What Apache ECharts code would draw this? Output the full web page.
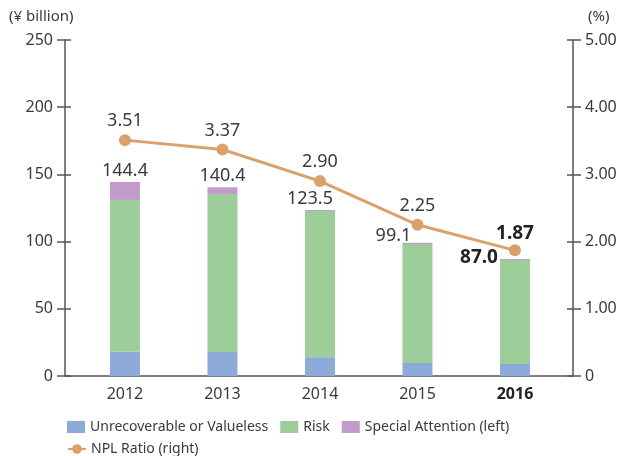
<!DOCTYPE html>
<html>
<head>
<meta charset="utf-8">
<script src="https://cdn.jsdelivr.net/npm/echarts@6/dist/echarts.min.js"></script>
<style>
  html, body { margin: 0; padding: 0; background: #fff; }
  #main { width: 622px; height: 456px; }
</style>
</head>
<body>
<div id="main"></div>
<script>
// 数据
var years = [2012, 2013, 2014, 2015, 2016];
var unrecoverable = [18.0, 17.9, 14.0, 9.7, 9.0];
var risk = [113.0, 117.5, 108.8, 88.5, 77.3];
var special = [13.4, 5.0, 0.7, 0.9, 0.7];
var totals = [144.4, 140.4, 123.5, 99.1, 87.0];
var nplRatio = [3.51, 3.37, 2.90, 2.25, 1.87];

var font = 'Noto Sans';
var textColor = '#3a3a3a';
var axisColor = '#555';

// 合计标签位置微调
var totalLabelTweak = [
  { position: 'top', distance: 2, offset: [0, 0] },
  { position: 'top', distance: 2, offset: [0, 0] },
  { position: 'top', distance: 2, offset: [-10, 0] },
  { position: 'top', distance: 0, offset: [-24, 2] },
  { position: 'left', distance: 2, offset: [0, -2], fontWeight: 'bold', fontSize: 19, color: '#222' }
];

// [数值, 年份]，数值放第一维以便堆叠
function pairs(arr) {
  return years.map(function (y, i) { return [arr[i], y]; });
}

var chart = echarts.init(document.getElementById('main'), null, { renderer: 'canvas' });

var option = {
  animation: false,
  textStyle: { fontFamily: font },
  grid: { left: 65, right: 49, top: 40, bottom: 80, containLabel: false },
  graphic: [
    { type: 'text', left: 9, top: 9, style: { text: '(¥ billion)', font: '15px "Noto Sans"', fill: textColor } },
    { type: 'text', left: 588, top: 9, style: { text: '(%)', font: '15px "Noto Sans"', fill: textColor } }
  ],
  legend: [
    {
      left: 62, top: 415, itemWidth: 18, itemHeight: 12, itemGap: 12,
      textStyle: { fontSize: 14, color: textColor, fontFamily: font },
      data: [
        { name: 'Unrecoverable or Valueless', icon: 'rect' },
        { name: 'Risk', icon: 'rect' },
        { name: 'Special Attention (left)', icon: 'rect' }
      ]
    },
    {
      left: 62, top: 437, itemWidth: 18, itemHeight: 12,
      textStyle: { fontSize: 14, color: textColor, fontFamily: font },
      data: ['NPL Ratio (right)']
    }
  ],
  xAxis: {
    type: 'value',
    min: 2011.385,
    max: 2016.595,
    splitLine: { show: false },
    axisLine: { show: true, lineStyle: { color: axisColor, width: 1.5 } },
    axisTick: { show: false },
    axisLabel: {
      customValues: years,
      margin: 10,
      fontSize: 16,
      color: textColor,
      formatter: function (v) {
        return v === 2016 ? '{b|' + v + '}' : String(v);
      },
      rich: { b: { fontWeight: 'bold', fontSize: 16, color: '#222' } }
    }
  },
  yAxis: [
    {
      type: 'value', min: 0, max: 250, interval: 50, position: 'left',
      splitLine: { show: false },
      axisLine: { show: true, lineStyle: { color: axisColor, width: 1.5 } },
      axisTick: { show: true, length: 8, lineStyle: { color: axisColor, width: 1.5 } },
      axisLabel: { margin: 12, fontSize: 16, color: textColor }
    },
    {
      type: 'value', min: 0, max: 5, interval: 1, position: 'right',
      splitLine: { show: false },
      axisLine: { show: true, lineStyle: { color: axisColor, width: 1.5 } },
      axisTick: { show: true, length: 8, lineStyle: { color: axisColor, width: 1.5 } },
      axisLabel: {
        margin: 12, fontSize: 16, color: textColor,
        formatter: function (v) { return v === 0 ? '0' : v.toFixed(2); }
      }
    },
    {
      type: 'value', min: 0, max: 250, interval: 50, position: 'left',
      splitLine: { show: false }, axisLine: { show: false },
      axisTick: { show: true, inside: true, length: 6, lineStyle: { color: axisColor, width: 1.5 } },
      axisLabel: { show: false }
    },
    {
      type: 'value', min: 0, max: 5, interval: 1, position: 'right',
      splitLine: { show: false }, axisLine: { show: false },
      axisTick: { show: true, inside: true, length: 6, lineStyle: { color: axisColor, width: 1.5 } },
      axisLabel: { show: false }
    }
  ],
  series: [
    {
      name: 'Unrecoverable or Valueless', type: 'bar', stack: 'npl', barWidth: 30,
      encode: { x: 1, y: 0 },
      itemStyle: { color: '#8eaad9' },
      data: pairs(unrecoverable)
    },
    {
      name: 'Risk', type: 'bar', stack: 'npl', barWidth: 30,
      encode: { x: 1, y: 0 },
      itemStyle: { color: '#9dcd99' },
      data: pairs(risk)
    },
    {
      name: 'Special Attention (left)', type: 'bar', stack: 'npl', barWidth: 30,
      encode: { x: 1, y: 0 },
      itemStyle: { color: '#c19bca' },
      data: years.map(function (y, i) {
        var t = totalLabelTweak[i];
        return {
          value: [special[i], y],
          label: {
            show: true,
            position: t.position,
            distance: t.distance,
            offset: t.offset,
            fontSize: t.fontSize || 18,
            fontWeight: t.fontWeight || 'normal',
            color: t.color || textColor,
            formatter: totals[i].toFixed(1)
          }
        };
      })
    },
    {
      name: 'NPL Ratio (right)', type: 'line', yAxisIndex: 1,
      symbol: 'circle', symbolSize: 12,
      lineStyle: { color: '#d9a26b', width: 3 },
      itemStyle: { color: '#d9a26b' },
      data: years.map(function (y, i) {
        var last = i === years.length - 1;
        return {
          value: [y, nplRatio[i]],
          label: {
            show: true, position: 'top', distance: last ? 1 : 4,
            fontSize: last ? 19 : 18,
            fontWeight: last ? 'bold' : 'normal',
            color: last ? '#222' : textColor,
            formatter: nplRatio[i].toFixed(2)
          }
        };
      }),
      z: 5
    }
  ]
};

chart.setOption(option);
</script>
</body>
</html>
